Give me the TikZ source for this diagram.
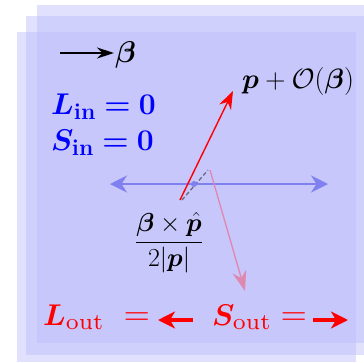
\documentclass[tikz,border=0pt]{standalone}
\usepackage{fix-cm}
\usepackage{bm}
\usepackage{graphicx}
\usetikzlibrary{arrows.meta}
\definecolor{panelblue}{RGB}{188,188,250}
\definecolor{axisblue}{RGB}{128,128,240}
\definecolor{dashgray}{RGB}{105,105,130}
\definecolor{pinkarrow}{RGB}{222,135,175}
\newcommand{\subtxt}[1]{\hbox{\fontsize{23}{27}\selectfont #1}}
\newcommand{\subsmall}[1]{\hbox{\scalebox{3.25}{\fontsize{7}{8}\selectfont #1}}}
\newcommand{\bigeq}{\mathrel{\hbox{\fontsize{36}{40}\selectfont$=$}}}
\tikzset{
  panel/.style={fill=panelblue, fill opacity=0.45, draw=none},
  bigtxt/.style={font=\fontsize{30}{36}\selectfont, inner sep=0pt, anchor=base west},
  midtxt/.style={font=\fontsize{28}{33}\selectfont, inner sep=0pt, anchor=base west},
  fractxt/.style={font=\fontsize{26}{31}\selectfont, inner sep=0pt},
  thickred/.style={draw=red, line width=4pt, -{Stealth[length=17pt,width=17pt,inset=5pt]}},
}
\begin{document}
\begin{tikzpicture}[x=1pt,y=-1pt]
\useasboundingbox (0,0) rectangle (364,362);
% translucent panels
\fill[panel] (37,5) rectangle (364,343);
\fill[panel] (26,16) rectangle (364,355);
\fill[panel] (17,32) rectangle (356,362);
% beta direction
\coordinate (b0) at (60,53);
\coordinate (b1) at (114,53);
\draw[black, line width=1.4pt, -{Stealth[length=17pt,width=11pt]}] (b0) -- (b1);
\node[midtxt, font=\fontsize{30}{34}\selectfont] (beta) at (115,62) {$\bm{\beta}$};
% momentum label
\node[midtxt] (plab) at (242,88) {$\bm{p}+\mathcal{O}(\bm{\beta})$};
% incoming
\node[bigtxt, text=blue] (Lin) at (51,114) {$\bm{L}_{\subtxt{\bfseries in}}\bm{=}\mathbf{0}$};
\node[bigtxt, text=blue] (Sin) at (51,150) {$\bm{S}_{\subtxt{\bfseries in}}\bm{=}\mathbf{0}$};
% horizontal axis
\coordinate (axL) at (110,184);
\coordinate (axR) at (328,184);
\draw[axisblue, line width=1.6pt, {Stealth[length=17pt,width=17pt]}-{Stealth[length=17pt,width=17pt]}] (axL) -- (axR);
% dashed displacement
\coordinate (d0) at (182,200);
\coordinate (d1) at (208,170);
\draw[dashgray, line width=1.3pt, dash pattern=on 4pt off 2.5pt] (d0) -- (d1);
\node[circle, fill=axisblue, inner sep=0pt, minimum size=6pt] (dot) at (194,184) {};
% red momentum arrow
\coordinate (r0) at (180,200);
\coordinate (r1) at (233,91);
\draw[red, line width=1.4pt, -{Stealth[length=18pt,width=13pt]}] (r0) -- (r1);
% pink outgoing arrow
\coordinate (q0) at (210,170);
\coordinate (q1) at (245,291);
\draw[pinkarrow, line width=1.3pt, -{Stealth[length=20pt,width=14pt]}] (q0) -- (q1);
% fraction
\node[fractxt] (frac) at (169,243) {$\displaystyle\frac{\bm{\beta}\times\hat{\bm{p}}}{2|\bm{p}|}$};
% outgoing
\node[bigtxt, text=red] (Lout) at (43,325) {$\bm{L}_{\subsmall{out}}\mkern7mu\bigeq$};
\coordinate (la0) at (193,320);
\coordinate (la1) at (158,320);
\draw[thickred] (la0) -- (la1);
\node[bigtxt, text=red] (Sout) at (212,325) {$\bm{S}_{\subsmall{out}}\mkern1mu\bigeq$};
\coordinate (ra0) at (313,320);
\coordinate (ra1) at (348,320);
\draw[thickred] (ra0) -- (ra1);
\end{tikzpicture}
\end{document}
